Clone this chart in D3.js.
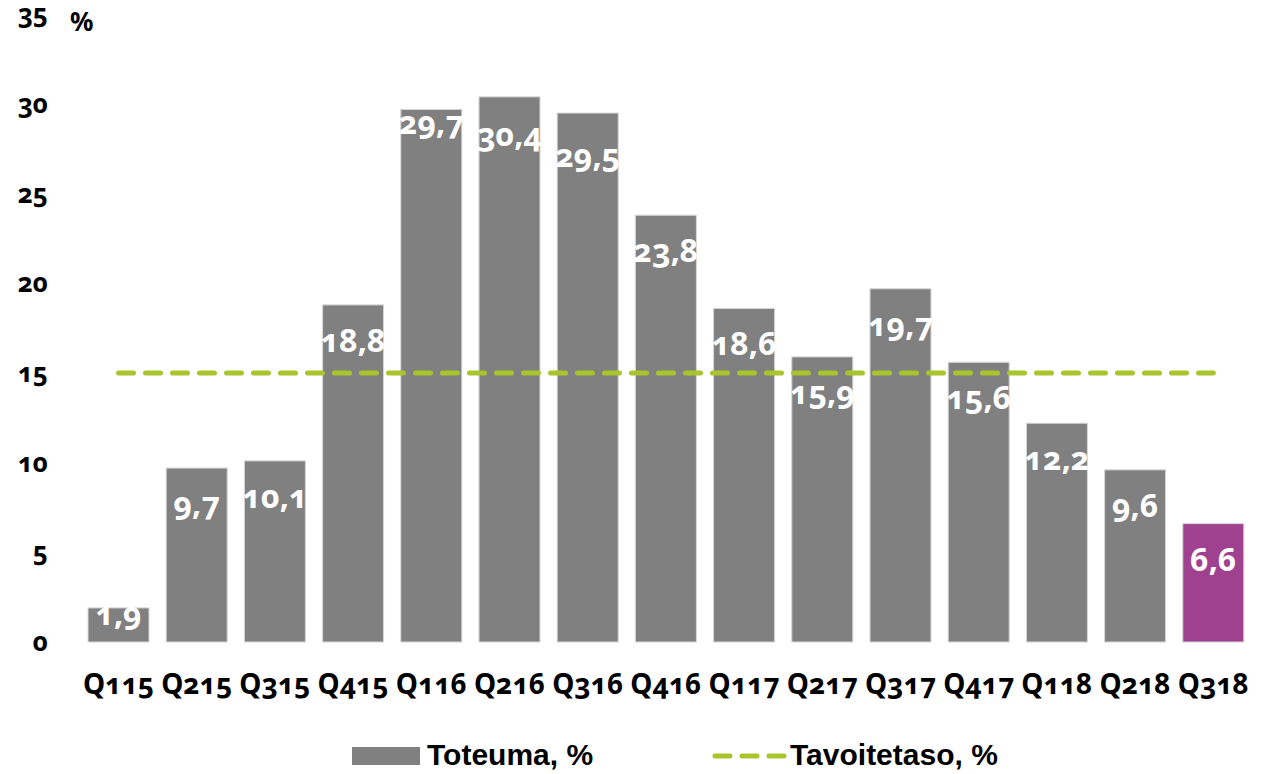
<!DOCTYPE html>
<html>
<head>
<meta charset="utf-8">
<script src="https://cdn.jsdelivr.net/npm/d3@7/dist/d3.min.js"></script>
<style>
  html, body { margin: 0; padding: 0; background: #fff; }
  svg { display: block; }
  .num { font-family: "Noto Sans", "Open Sans", sans-serif; font-weight: 700; font-variant-numeric: oldstyle-nums; font-feature-settings: "onum" 1; }
  .legend { font-family: "Liberation Sans", Arial, sans-serif; font-weight: 700; }
</style>
</head>
<body>
<svg id="chart" width="1281" height="774"></svg>
<script>
// Quarterly outcome vs. target level
const categories = ["Q115","Q215","Q315","Q415","Q116","Q216","Q316","Q416","Q117","Q217","Q317","Q417","Q118","Q218","Q318"];
const actualValues = [1.9, 9.7, 10.1, 18.8, 29.7, 30.4, 29.5, 23.8, 18.6, 15.9, 19.7, 15.6, 12.2, 9.6, 6.6];
const targetValues = [15, 15, 15, 15, 15, 15, 15, 15, 15, 15, 15, 15, 15, 15, 15];
const yTicks = [0, 5, 10, 15, 20, 25, 30, 35];
const seriesNames = ["Toteuma, %", "Tavoitetaso, %"];
const highlightCategory = "Q318";

const barColor = "#808080";
const highlightColor = "#A0418F";
const targetColor = "#AAC42C";

// label placement tweaks (px) for a few crowded bars
const labelNudge = { Q116: -22, Q216: 2, Q316: 7 };

const svg = d3.select("#chart");
const fmt = v => String(v).replace(".", ",");

const x = d3.scaleBand()
  .domain(categories)
  .range([79.4, 1252.4])
  .paddingInner(0.22)
  .paddingOuter(0.11);

const y = d3.scaleLinear().domain([0, 35]).range([642, 14.4]);

const rows = categories.map((c, i) => ({ cat: c, actual: actualValues[i], target: targetValues[i] }));

// bars
svg.append("g").selectAll("rect")
  .data(rows)
  .join("rect")
  .attr("x", d => x(d.cat))
  .attr("y", d => y(d.actual))
  .attr("width", x.bandwidth())
  .attr("height", d => y(0) - y(d.actual))
  .attr("fill", d => d.cat === highlightCategory ? highlightColor : barColor)
  .attr("stroke", "#d6d6d6")
  .attr("stroke-width", 1);

// value labels inside bars
svg.append("g").selectAll("text")
  .data(rows)
  .join("text")
  .attr("class", "num")
  .attr("x", d => x(d.cat) + x.bandwidth() / 2)
  .attr("y", d => {
    const top = y(d.actual);
    const h = y(0) - top;
    if (h < 60) return top + 17;
    return top + 47 + (labelNudge[d.cat] || 0);
  })
  .attr("text-anchor", "middle")
  .attr("fill", "#fff")
  .attr("font-size", 32)
  .text(d => fmt(d.actual));

// target line
const line = d3.line()
  .x(d => x(d.cat) + x.bandwidth() / 2)
  .y(d => y(d.target));

svg.append("path")
  .datum(rows)
  .attr("d", line)
  .attr("fill", "none")
  .attr("stroke", targetColor)
  .attr("stroke-width", 5)
  .attr("stroke-linecap", "round")
  .attr("stroke-dasharray", "15 12");

// y axis labels
const yAxis = svg.append("g").attr("class", "num");
yAxis.selectAll("text")
  .data(yTicks)
  .join("text")
  .attr("x", 48)
  .attr("y", d => y(d) + 9)
  .attr("text-anchor", "end")
  .attr("font-size", 26)
  .attr("fill", "#000")
  .text(d => d);
yAxis.append("text")
  .attr("x", 70)
  .attr("y", 31)
  .attr("font-size", 26)
  .attr("fill", "#000")
  .text("%");

// x axis labels
svg.append("g").selectAll("text")
  .data(categories)
  .join("text")
  .attr("class", "num")
  .attr("x", d => x(d) + x.bandwidth() / 2)
  .attr("y", 694)
  .attr("text-anchor", "middle")
  .attr("font-size", 28)
  .attr("fill", "#000")
  .text(d => d);

// legend
const lg = svg.append("g");
lg.append("rect")
  .attr("x", 352).attr("y", 747).attr("width", 68).attr("height", 18)
  .attr("fill", barColor);
lg.append("text")
  .attr("class", "legend")
  .attr("x", 427).attr("y", 765)
  .attr("font-size", 30).attr("fill", "#000")
  .text(seriesNames[0]);
lg.append("line")
  .attr("x1", 715).attr("x2", 785).attr("y1", 756).attr("y2", 756)
  .attr("stroke", targetColor)
  .attr("stroke-width", 5)
  .attr("stroke-linecap", "round")
  .attr("stroke-dasharray", "15 12");
lg.append("text")
  .attr("class", "legend")
  .attr("x", 790).attr("y", 765)
  .attr("font-size", 30).attr("fill", "#000")
  .text(seriesNames[1]);
</script>
</body>
</html>
